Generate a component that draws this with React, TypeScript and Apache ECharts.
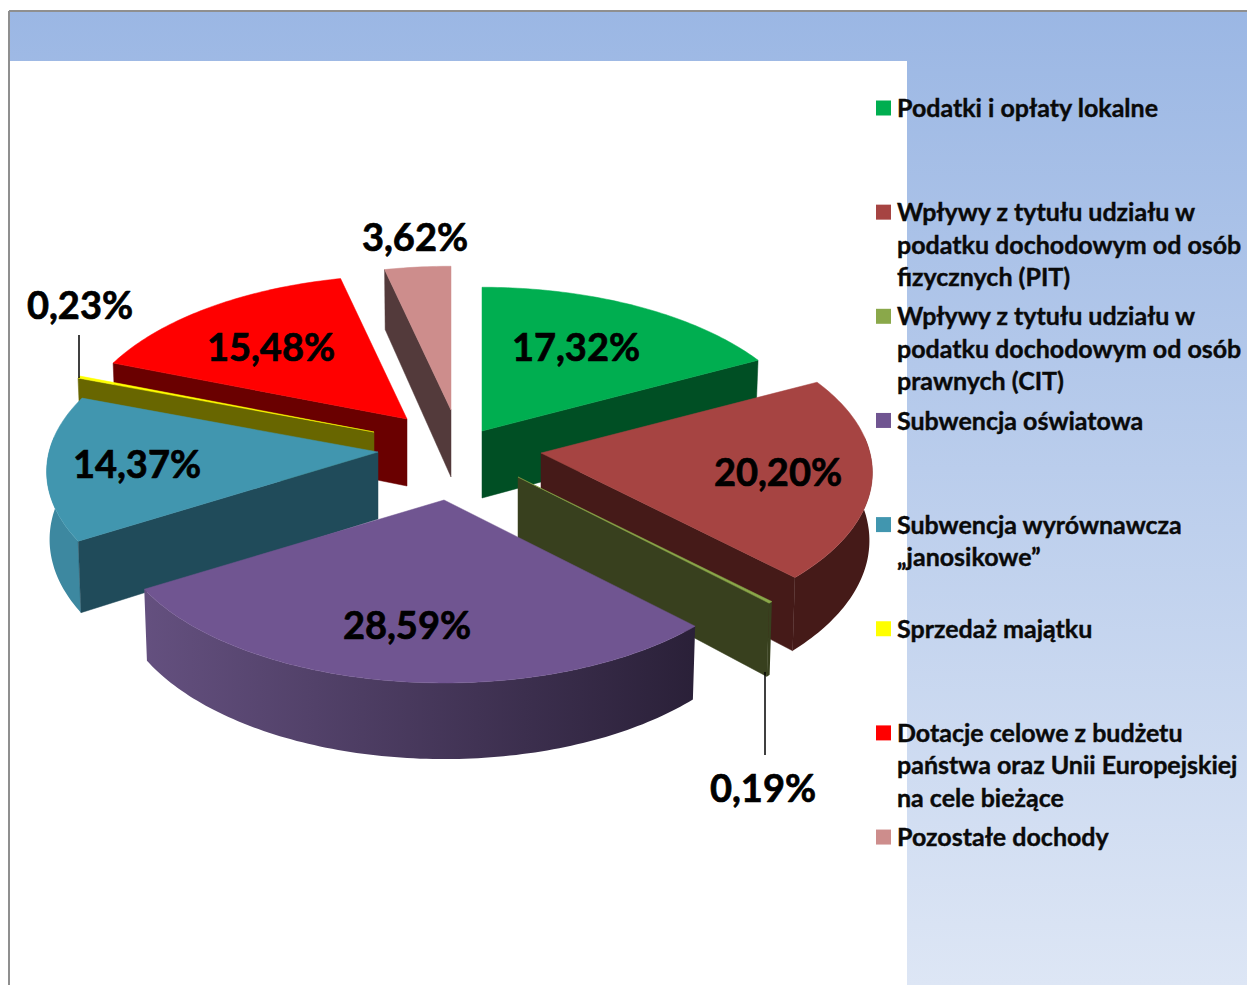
import React, { useEffect, useRef } from "react";
import * as echarts from "echarts";

const CATEGORIES = [
  "Podatki i opłaty lokalne",
  "Wpływy z tytułu udziału w\npodatku dochodowym od osób\nfizycznych (PIT)",
  "Wpływy z tytułu udziału w\npodatku dochodowym od osób\nprawnych (CIT)",
  "Subwencja oświatowa",
  "Subwencja wyrównawcza\n„janosikowe”",
  "Sprzedaż majątku",
  "Dotacje celowe z budżetu\npaństwa oraz Unii Europejskiej\nna cele bieżące",
  "Pozostałe dochody",
];
const VALUES = [17.32, 20.2, 0.19, 28.59, 14.37, 0.23, 15.48, 3.62];

const TOP_COLORS = ["#00AE50", "#A64442", "#8AA84A", "#705591", "#4196AF", "#FFFF00", "#FF0000", "#CD8D8C"];
const CUT_COLORS = ["#004F24", "#451A18", "#38401E", "#2B2139", "#204B5A", "#686600", "#6A0000", "#533A3B"];
const OUTER_COLORS: any[] = [
  "#004F24",
  "#451A18",
  "#38401E",
  { type: "linear", x: 0, y: 0, x2: 1, y2: 0, colorStops: [{ offset: 0, color: "#64507F" }, { offset: 1, color: "#2A2038" }] },
  "#3D88A0",
  "#686600",
  "#6A0000",
  "#533A3B",
];

// Pie geometry
const CENTER = [456, 452];
const EXPLODE = [[26, -21], [85, 1], [62, 25], [-12, 48], [-78, 0], [-82, -20], [-49, -33], [-5, -42]];
const RX = 329;
const RY = 161;
const PERSP = 0.12;
const DEPTH = 67;
const BOTTOM_SHRINK = 0.991;
const DRAW_ORDER = [7, 0, 6, 1, 2, 5, 4, 3];
const LABEL_OFFSETS = [[94, -85], [237, 18], [245, 310], [-37, 124], [-241, 11], [-294, -128], [-136, -73], [-36, -174]];
const LEADERS: Record<number, number[]> = { 2: [247, 195, 278], 5: [-295, -97, -54] };

const LABEL_FONT = "Lato";
const TOTAL = VALUES.reduce((a, b) => a + b, 0);
const STARTS = VALUES.map((_, i) => (VALUES.slice(0, i).reduce((a, b) => a + b, 0) / TOTAL) * 360);

const apexOf = (i: number) => [CENTER[0] + EXPLODE[i][0], CENTER[1] + EXPLODE[i][1]];

function proj(a: number[], deg: number, bottom = false) {
  const t = (deg * Math.PI) / 180;
  const Y = Math.cos(t);
  const s = 1 / (1 + PERSP * Y);
  const x = RX * Math.sin(t) * s;
  const y = -RY * Y * s;
  return bottom ? [a[0] + x * BOTTOM_SHRINK, a[1] + y + DEPTH * s] : [a[0] + x, a[1] + y];
}

function renderSlice(_: any, api: any) {
  const i = api.value(0);
  const v = api.value(1);
  const a0 = STARTS[i];
  const a1 = a0 + (v / TOTAL) * 360;
  const apex = apexOf(i);
  const apexB = [apex[0], apex[1] + DEPTH];

  const arc: number[] = [];
  const n = Math.max(2, Math.ceil(a1 - a0));
  for (let k = 0; k <= n; k++) arc.push(a0 + ((a1 - a0) * k) / n);
  const topPts = [apex, ...arc.map((d) => proj(apex, d))];
  const children: any[] = [];

  // outer wall: only the part of the rim that faces the viewer
  const front = arc.filter((d) => Math.cos((d * Math.PI) / 180) < 0.1);
  if (front.length >= 2) {
    children.push({
      type: "polygon",
      shape: { points: [...front.map((d) => proj(apex, d)), ...front.slice().reverse().map((d) => proj(apex, d, true))] },
      style: { fill: OUTER_COLORS[i] },
    });
  }

  // cut faces
  const M = proj(apex, (a0 + a1) / 2);
  [a0, a1].forEach((d) => {
    const P = proj(apex, d);
    if (Math.abs(P[0] - apex[0]) < 1) return;
    const yLine = apex[1] + ((P[1] - apex[1]) * (M[0] - apex[0])) / (P[0] - apex[0]);
    if (M[1] < yLine) {
      children.push({
        type: "polygon",
        shape: { points: [apex, P, proj(apex, d, true), apexB] },
        style: { fill: CUT_COLORS[i], stroke: CUT_COLORS[i], lineWidth: 0.5 },
      });
    }
  });

  children.push({
    type: "polygon",
    shape: { points: topPts },
    style: { fill: TOP_COLORS[i], stroke: TOP_COLORS[i], lineWidth: 0.5 },
  });
  return { type: "group", children };
}

function renderLabel(_: any, api: any) {
  const i = api.value(0);
  const v = api.value(1);
  const apex = apexOf(i);
  const children: any[] = [];
  const leader = LEADERS[i];
  if (leader) {
    children.push({
      type: "line",
      shape: { x1: apex[0] + leader[0], y1: apex[1] + leader[1], x2: apex[0] + leader[0], y2: apex[1] + leader[2] },
      style: { stroke: "#000", lineWidth: 1.5 },
    });
  }
  children.push({
    type: "text",
    style: {
      text: v.toFixed(2).replace(".", ",") + "%",
      x: apex[0] + LABEL_OFFSETS[i][0],
      y: apex[1] + LABEL_OFFSETS[i][1],
      align: "center",
      verticalAlign: "middle",
      fontFamily: LABEL_FONT,
      fontWeight: 700,
      fontSize: 38,
      fill: "#000",
      stroke: "#000",
      lineWidth: 0.7,
    },
  });
  return { type: "group", children };
}

const LEGEND_TOP = 108;
const LEGEND_STEP = 104.15;

export default function App() {
  const ref = useRef<HTMLDivElement>(null);
  useEffect(() => {
    document.body.style.margin = "0";
    const chart = echarts.init(ref.current!, null, { renderer: "svg" });
    const legend: any[] = [];
    CATEGORIES.forEach((name, i) => {
      const y = LEGEND_TOP + i * LEGEND_STEP;
      legend.push({ type: "rect", shape: { x: 876, y: y - 7.5, width: 15, height: 15 }, style: { fill: TOP_COLORS[i] }, z: 5 });
      legend.push({
        type: "text",
        x: 897,
        y: y - 17,
        style: {
          text: name,
          fontFamily: LABEL_FONT,
          fontWeight: 700,
          fontSize: 25,
          lineHeight: 32.4,
          fill: "#0A0A0A",
          stroke: "#0A0A0A",
          lineWidth: 0.4,
          verticalAlign: "top",
        },
        z: 5,
      });
    });
    const data = DRAW_ORDER.map((i) => ({ name: CATEGORIES[i], value: [i, VALUES[i]] }));
    chart.setOption({
      animation: false,
      backgroundColor: "#fff",
      graphic: [
        {
          type: "rect",
          z: -10,
          shape: { x: 10, y: 12, width: 1237, height: 973 },
          style: { fill: { type: "linear", x: 0, y: 0, x2: 0, y2: 1, colorStops: [{ offset: 0, color: "#9BB7E4" }, { offset: 1, color: "#DDE6F5" }] } },
        },
        { type: "rect", z: -9, shape: { x: 10, y: 61, width: 897, height: 924 }, style: { fill: "#fff" } },
        { type: "line", z: -8, shape: { x1: 9, y1: 11, x2: 1247, y2: 11 }, style: { stroke: "#8F8F8F", lineWidth: 2 } },
        { type: "line", z: -8, shape: { x1: 9, y1: 11, x2: 9, y2: 985 }, style: { stroke: "#8F8F8F", lineWidth: 2 } },
        ...legend,
      ],
      series: [
        { type: "custom", coordinateSystem: "none", renderItem: renderSlice, data, z: 2, silent: true, clip: false },
        { type: "custom", coordinateSystem: "none", renderItem: renderLabel, data, z: 3, silent: true, clip: false },
      ],
    });
    return () => chart.dispose();
  }, []);
  return <div ref={ref} style={{ width: 1247, height: 985 }} />;
}
